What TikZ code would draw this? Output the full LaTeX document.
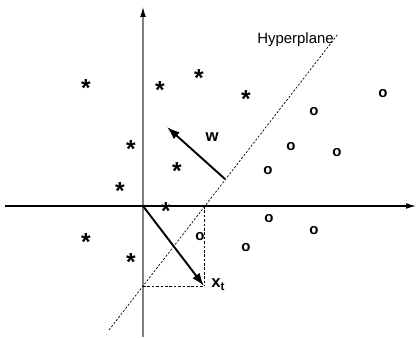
\documentclass[tikz,border=0pt]{standalone}
\usepackage{fontspec}
\setmainfont{Liberation Sans}
\usepackage{tikz}
\usetikzlibrary{arrows.meta, positioning, calc}
\definecolor{axisgray}{HTML}{808080}

\begin{document}
\begin{tikzpicture}[
  x=0.02cm, y=-0.02cm,
  axis/.style={-{Latex[length=2mm, width=1.15mm, color=black]}, line width=0.6pt},
  vec/.style={-{Latex[length=2.6mm, width=1.8mm]}, line width=1.1pt},
  hyper/.style={dash pattern=on 1.2pt off 1pt, line width=0.4pt},
  proj/.style={dash pattern=on 1.5pt off 1pt, line width=0.4pt},
  negpt/.style={font=\fontsize{14}{14}\selectfont\bfseries, inner sep=0pt, yshift=-3pt},
  pospt/.style={font=\fontsize{8.5}{9}\selectfont\bfseries, inner sep=0pt},
  vlabel/.style={font=\fontsize{9.5}{10}\selectfont\bfseries, inner sep=0pt},
]
  \useasboundingbox (0,0) rectangle (417,338);

  % Axes
  \coordinate (O) at (143,206);
  \coordinate (ytop) at (143,7);
  \coordinate (ybot) at (143,337);
  \coordinate (xleft) at (5,206);
  \coordinate (xright) at (416,206);
  \draw[axis, axisgray] (ybot) -- (ytop);
  \draw[axis] (xleft) -- (xright);

  % Hyperplane
  \coordinate (hlow) at (109,330);
  \coordinate (hhigh) at (338,34);
  \draw[hyper] (hlow) -- (hhigh);
  \node[anchor=base west, font=\fontsize{8.5}{9}\selectfont, inner sep=0pt] (hyplabel) at (257,44) {Hyperplane};

  % Vectors
  \coordinate (wfoot) at (225,179);
  \coordinate (wtip) at (167,127);
  \coordinate (xt) at (204,286);
  \coordinate (xproj) at (204,206);
  \coordinate (yproj) at (143,286);
  \draw[proj] (xproj) -- (xt);
  \draw[proj] (yproj) -- (xt);
  \draw[vec] (wfoot) -- (wtip);
  \draw[vec] (O) -- (xt);
  \node[vlabel] (wlabel) at (212,137) {w};
  \node[vlabel, anchor=base west] (xtlabel) at (211,288) {x\textsubscript{t}};

  % Class -1
  \node[negpt] (s1) at (86,83) {*};
  \node[negpt] (s2) at (160,85) {*};
  \node[negpt] (s3) at (199,73) {*};
  \node[negpt] (s4) at (246,94) {*};
  \node[negpt] (s5) at (131,144) {*};
  \node[negpt] (s6) at (177,166) {*};
  \node[negpt] (s7) at (120,186) {*};
  \node[negpt] (s8) at (166,206) {*};
  \node[negpt] (s9) at (86,237) {*};
  \node[negpt] (s10) at (131,257) {*};

  % Class +1
  \node[pospt] (c1) at (383,94) {o};
  \node[pospt] (c2) at (314,112) {o};
  \node[pospt] (c3) at (291,147) {o};
  \node[pospt] (c4) at (337,153) {o};
  \node[pospt] (c5) at (268,171) {o};
  \node[pospt] (c6) at (269,219) {o};
  \node[pospt] (c7) at (314,231) {o};
  \node[pospt] (c8) at (200,237) {o};
  \node[pospt] (c9) at (246,248) {o};

\end{tikzpicture}
\end{document}
